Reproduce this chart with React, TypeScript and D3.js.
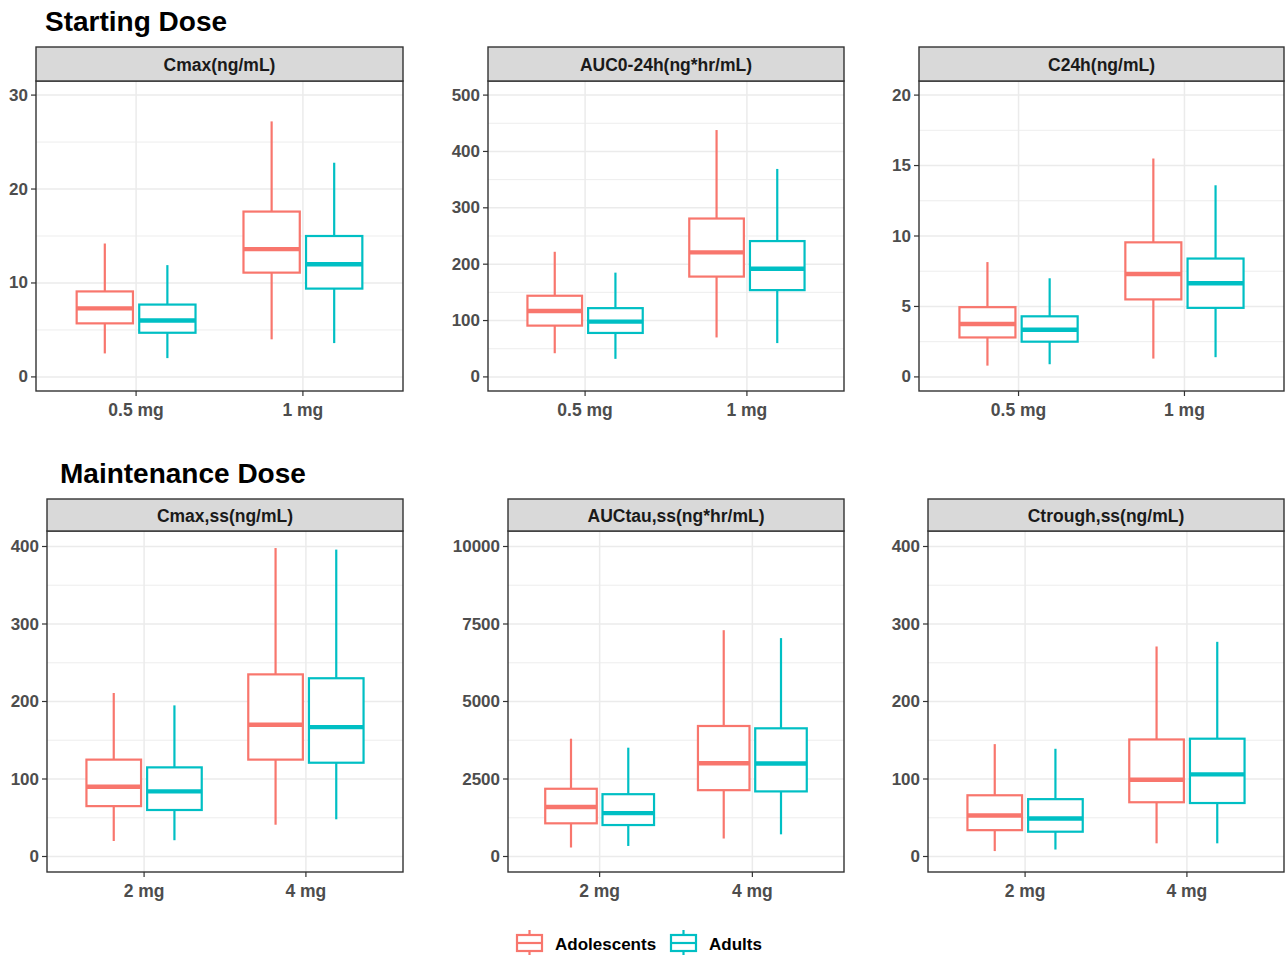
import React from "react";
import * as d3 from "d3";

// ---------- data ----------
const groups = ["Adolescents", "Adults"];
const groupColors = ["#F8766D", "#00BFC4"];

const startDoses = ["0.5 mg", "1 mg"];
const maintDoses = ["2 mg", "4 mg"];

const sectionTitles = ["Starting Dose", "Maintenance Dose"];

const panelTitles = [
  "Cmax(ng/mL)",
  "AUC0-24h(ng*hr/mL)",
  "C24h(ng/mL)",
  "Cmax,ss(ng/mL)",
  "AUCtau,ss(ng*hr/mL)",
  "Ctrough,ss(ng/mL)",
];

const yTicks = [
  [0, 10, 20, 30],
  [0, 100, 200, 300, 400, 500],
  [0, 5, 10, 15, 20],
  [0, 100, 200, 300, 400],
  [0, 2500, 5000, 7500, 10000],
  [0, 100, 200, 300, 400],
];
const yLimits = [
  [0, 30],
  [0, 500],
  [0, 20],
  [0, 400],
  [0, 10000],
  [0, 400],
];

// box stats: [lower whisker, Q1, median, Q3, upper whisker] per dose
const cmaxAdolescents = [[2.5, 5.7, 7.3, 9.1, 14.2], [4.0, 11.1, 13.6, 17.6, 27.2]];
const cmaxAdults = [[2.0, 4.7, 6.0, 7.7, 11.9], [3.6, 9.4, 12.0, 15.0, 22.8]];
const aucAdolescents = [[42, 91, 117, 144, 222], [70, 178, 221, 281, 438]];
const aucAdults = [[32, 78, 98, 122, 185], [60, 154, 192, 241, 369]];
const c24Adolescents = [[0.8, 2.8, 3.75, 4.95, 8.15], [1.3, 5.5, 7.3, 9.55, 15.5]];
const c24Adults = [[0.9, 2.5, 3.35, 4.3, 7.0], [1.4, 4.9, 6.65, 8.4, 13.6]];
const cmaxssAdolescents = [[20, 65, 90, 125, 211], [41, 125, 170, 235, 398]];
const cmaxssAdults = [[21, 60, 84, 115, 195], [48, 121, 167, 230, 396]];
const auctauAdolescents = [[290, 1070, 1595, 2185, 3800], [580, 2140, 3010, 4210, 7300]];
const auctauAdults = [[340, 1015, 1400, 2010, 3510], [715, 2100, 3000, 4135, 7045]];
const ctroughAdolescents = [[7, 34, 53, 79, 145], [17, 70, 99, 151, 271]];
const ctroughAdults = [[9, 32, 49, 74, 139], [17, 69, 106, 152, 277]];

const panelData = [
  [cmaxAdolescents, cmaxAdults],
  [aucAdolescents, aucAdults],
  [c24Adolescents, c24Adults],
  [cmaxssAdolescents, cmaxssAdults],
  [auctauAdolescents, auctauAdults],
  [ctroughAdolescents, ctroughAdults],
];

// ---------- layout ----------
const FONT = "'Liberation Sans', Arial, sans-serif";

const layouts = [
  { x0: 36, x1: 403, stripTop: 47, top: 81, bottom: 391 },
  { x0: 488, x1: 844, stripTop: 47, top: 81, bottom: 391 },
  { x0: 919, x1: 1284, stripTop: 47, top: 81, bottom: 391 },
  { x0: 47, x1: 403, stripTop: 499, top: 531, bottom: 872 },
  { x0: 508, x1: 844, stripTop: 499, top: 531, bottom: 872 },
  { x0: 928, x1: 1284, stripTop: 499, top: 531, bottom: 872 },
];

const LW = 2.2;

function Panel({ idx }: { idx: number }) {
  const L = layouts[idx];
  const cats = idx < 3 ? startDoses : maintDoses;
  const [lo, hi] = yLimits[idx];
  const pad = (hi - lo) * 0.05;
  const y = d3.scaleLinear().domain([lo - pad, hi + pad]).range([L.bottom, L.top]);
  const x = d3.scaleLinear().domain([0.4, 2.6]).range([L.x0, L.x1]);
  const ticks = yTicks[idx];
  const minor: number[] = [];
  for (let i = 0; i < ticks.length - 1; i++) minor.push((ticks[i] + ticks[i + 1]) / 2);
  const step = ticks[1] - ticks[0];
  minor.unshift(ticks[0] - step / 2);
  minor.push(ticks[ticks.length - 1] + step / 2);
  const [d0, d1] = y.domain();
  const minorVis = minor.filter((m) => m > d0 && m < d1);

  const dodge = 0.1875;
  const boxW = 0.3375;

  return (
    <g>
      <rect x={L.x0} y={L.top} width={L.x1 - L.x0} height={L.bottom - L.top} fill="#FFFFFF" />
      {minorVis.map((m, i) => (
        <line key={"mn" + i} x1={L.x0} x2={L.x1} y1={y(m)} y2={y(m)} stroke="#EBEBEB" strokeWidth={0.9} />
      ))}
      {ticks.map((t, i) => (
        <line key={"mj" + i} x1={L.x0} x2={L.x1} y1={y(t)} y2={y(t)} stroke="#EBEBEB" strokeWidth={1.5} />
      ))}
      {cats.map((c, i) => (
        <line key={"vx" + i} x1={x(i + 1)} x2={x(i + 1)} y1={L.top} y2={L.bottom} stroke="#EBEBEB" strokeWidth={1.5} />
      ))}
      {cats.map((c, ci) =>
        groups.map((g, gi) => {
          const s = panelData[idx][gi][ci];
          const off = gi === 0 ? -dodge : dodge;
          const cx = x(ci + 1 + off);
          const bx0 = x(ci + 1 + off - boxW / 2);
          const bx1 = x(ci + 1 + off + boxW / 2);
          const col = groupColors[gi];
          return (
            <g key={"b" + ci + gi}>
              <line x1={cx} x2={cx} y1={y(s[4])} y2={y(s[3])} stroke={col} strokeWidth={LW} />
              <line x1={cx} x2={cx} y1={y(s[1])} y2={y(s[0])} stroke={col} strokeWidth={LW} />
              <rect
                x={bx0}
                y={y(s[3])}
                width={bx1 - bx0}
                height={y(s[1]) - y(s[3])}
                fill="#FFFFFF"
                stroke={col}
                strokeWidth={LW}
              />
              <line x1={bx0} x2={bx1} y1={y(s[2])} y2={y(s[2])} stroke={col} strokeWidth={LW * 2} />
            </g>
          );
        })
      )}
      <rect x={L.x0} y={L.top} width={L.x1 - L.x0} height={L.bottom - L.top} fill="none" stroke="#333333" strokeWidth={1.4} />
      <rect
        x={L.x0}
        y={L.stripTop}
        width={L.x1 - L.x0}
        height={L.top - L.stripTop}
        fill="#D9D9D9"
        stroke="#333333"
        strokeWidth={1.4}
      />
      <text
        x={(L.x0 + L.x1) / 2}
        y={(L.stripTop + L.top) / 2 + 1}
        textAnchor="middle"
        dominantBaseline="central"
        fontFamily={FONT}
        fontWeight="bold"
        fontSize={17.5}
        fill="#1A1A1A"
      >
        {panelTitles[idx]}
      </text>
      {ticks.map((t, i) => (
        <g key={"yt" + i}>
          <line x1={L.x0 - 5} x2={L.x0} y1={y(t)} y2={y(t)} stroke="#333333" strokeWidth={1.2} />
          <text
            x={L.x0 - 8}
            y={y(t)}
            textAnchor="end"
            dominantBaseline="central"
            fontFamily={FONT}
            fontWeight="bold"
            fontSize={17}
            fill="#4D4D4D"
          >
            {t}
          </text>
        </g>
      ))}
      {cats.map((c, i) => (
        <g key={"xt" + i}>
          <line x1={x(i + 1)} x2={x(i + 1)} y1={L.bottom} y2={L.bottom + 5} stroke="#333333" strokeWidth={1.2} />
          <text
            x={x(i + 1)}
            y={L.bottom + 25}
            textAnchor="middle"
            fontFamily={FONT}
            fontWeight="bold"
            fontSize={17.5}
            fill="#4D4D4D"
          >
            {c}
          </text>
        </g>
      ))}
    </g>
  );
}

function LegendKey({ x, y, color }: { x: number; y: number; color: string }) {
  return (
    <g>
      <line x1={x + 12.5} x2={x + 12.5} y1={y - 13} y2={y + 12} stroke={color} strokeWidth={LW} />
      <rect x={x} y={y - 8} width={25} height={16} fill="#FFFFFF" stroke={color} strokeWidth={LW} />
      <line x1={x} x2={x + 25} y1={y} y2={y} stroke={color} strokeWidth={LW} />
    </g>
  );
}

export default function App() {
  const legendX = [517, 671];
  const legendTextX = [555, 709];
  return (
    <svg
      width={1286}
      height={957}
      style={{ position: "absolute", left: 0, top: 0, background: "#FFFFFF" }}
    >
      <rect x={0} y={0} width={1286} height={957} fill="#FFFFFF" />
      <text x={45} y={31} fontFamily={FONT} fontWeight="bold" fontSize={28} fill="#000000">
        {sectionTitles[0]}
      </text>
      <text x={60} y={483} fontFamily={FONT} fontWeight="bold" fontSize={28} fill="#000000">
        {sectionTitles[1]}
      </text>
      {panelTitles.map((p, i) => (
        <Panel key={i} idx={i} />
      ))}
      {groups.map((g, i) => (
        <g key={g}>
          <LegendKey x={legendX[i]} y={943} color={groupColors[i]} />
          <text
            x={legendTextX[i]}
            y={944}
            dominantBaseline="central"
            fontFamily={FONT}
            fontWeight="bold"
            fontSize={17}
            fill="#000000"
          >
            {g}
          </text>
        </g>
      ))}
    </svg>
  );
}
